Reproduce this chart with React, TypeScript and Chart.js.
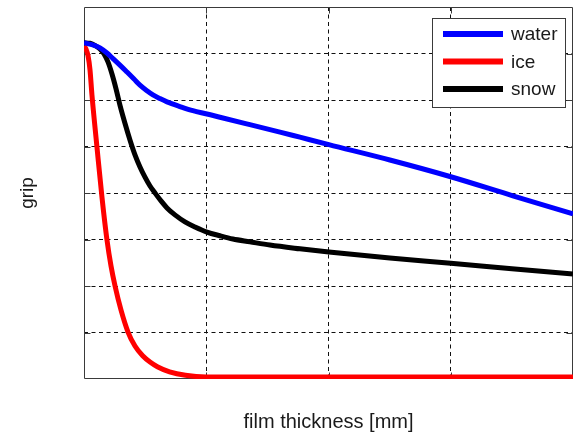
import React, { useEffect, useRef } from "react";
import { Chart, registerables } from "chart.js";

Chart.register(...registerables);

// x: film thickness (4 grid divisions), y: grip (8 grid divisions)
const waterX = [0, 0.065, 0.131, 0.188, 0.237, 0.294, 0.352, 0.409, 0.458, 0.515, 0.564, 0.621, 0.679, 0.785, 0.891, 1.006, 1.112, 1.357, 1.603, 1.766, 2.003, 2.502, 3.0, 3.508, 4.0];
const waterY = [7.23, 7.19, 7.12, 7.01, 6.89, 6.75, 6.6, 6.45, 6.32, 6.2, 6.11, 6.03, 5.96, 5.86, 5.77, 5.7, 5.63, 5.47, 5.31, 5.2, 5.04, 4.71, 4.35, 3.94, 3.55];

const iceX = [0, 0.016, 0.033, 0.049, 0.065, 0.106, 0.147, 0.188, 0.221, 0.254, 0.303, 0.36, 0.417, 0.48, 0.54, 0.6, 0.7, 0.83, 1.0, 2.0, 3.0, 4.0];
const iceY = [7.16, 7.1, 6.95, 6.65, 6.11, 4.99, 3.91, 2.99, 2.43, 2.0, 1.48, 1.01, 0.71, 0.5, 0.365, 0.265, 0.155, 0.08, 0.045, 0.045, 0.045, 0.045];

const snowX = [0, 0.049, 0.098, 0.131, 0.164, 0.196, 0.229, 0.262, 0.294, 0.335, 0.376, 0.417, 0.458, 0.499, 0.54, 0.581, 0.63, 0.679, 0.744, 0.826, 0.908, 1.006, 1.112, 1.218, 1.357, 1.521, 1.766, 2.003, 2.502, 3.0, 3.5, 4.0];
const snowY = [7.23, 7.22, 7.16, 7.1, 6.99, 6.82, 6.56, 6.24, 5.89, 5.5, 5.14, 4.82, 4.56, 4.34, 4.15, 4.0, 3.83, 3.68, 3.53, 3.38, 3.27, 3.16, 3.08, 3.01, 2.95, 2.88, 2.8, 2.73, 2.6, 2.49, 2.37, 2.26];

const seriesNames = ["water", "ice", "snow"];
const seriesColors = ["#0000ff", "#ff0000", "#000000"];
const xTitle = "film thickness [mm]";
const yTitle = "grip";
const xMin = 0, xMax = 4, yMin = 0, yMax = 8;

const toPoints = (xs: number[], ys: number[]) => xs.map((x, i) => ({ x, y: ys[i] }));

const BOX = "#3a3a3a";

const framePlugin = {
  id: "frame",
  beforeDatasetsDraw(chart: any) {
    const { ctx, chartArea: a, scales } = chart;
    ctx.save();
    ctx.strokeStyle = BOX;
    ctx.lineWidth = 1;
    const l = Math.round(a.left) + 0.5, r = Math.round(a.right) - 0.5;
    const t = Math.round(a.top) + 0.5, b = Math.round(a.bottom) - 0.5;
    ctx.beginPath();
    ctx.rect(l, t, r - l, b - t);
    ctx.stroke();
    const tl = 6;
    ctx.beginPath();
    scales.x.ticks.forEach((tk: any) => {
      if (tk.value <= xMin || tk.value >= xMax) return;
      const px = Math.round(scales.x.getPixelForValue(tk.value)) + 0.5;
      ctx.moveTo(px, t); ctx.lineTo(px, t + tl);
      ctx.moveTo(px, b); ctx.lineTo(px, b - tl);
    });
    scales.y.ticks.forEach((tk: any) => {
      if (tk.value <= yMin || tk.value >= yMax) return;
      const py = Math.round(scales.y.getPixelForValue(tk.value)) + 0.5;
      ctx.moveTo(l, py); ctx.lineTo(l + tl, py);
      ctx.moveTo(r, py); ctx.lineTo(r - tl, py);
    });
    ctx.stroke();

    // axis titles
    ctx.fillStyle = "#1a1a1a";
    ctx.font = '20px "Liberation Sans", Arial, sans-serif';
    ctx.textAlign = "center";
    ctx.textBaseline = "alphabetic";
    ctx.fillText(xTitle, (a.left + a.right) / 2, a.bottom + 49);
    ctx.save();
    ctx.translate(a.left - 51, (a.top + a.bottom) / 2);
    ctx.rotate(-Math.PI / 2);
    ctx.font = '19px "Liberation Sans", Arial, sans-serif';
    ctx.fillText(yTitle, 0, 0);
    ctx.restore();
    ctx.restore();
  },
  afterDatasetsDraw(chart: any) {
    const { ctx, chartArea: a } = chart;
    const w = 133, h = 89;
    const left = Math.round(a.right) - 8 - w;
    const top = Math.round(a.top) + 11;
    ctx.save();
    ctx.fillStyle = "#ffffff";
    ctx.fillRect(left, top, w, h);
    ctx.strokeStyle = BOX;
    ctx.lineWidth = 1;
    ctx.strokeRect(left + 0.5, top + 0.5, w, h);
    ctx.font = '19px "Liberation Sans", Arial, sans-serif';
    ctx.textAlign = "left";
    ctx.textBaseline = "middle";
    chart.data.datasets.forEach((ds: any, i: number) => {
      const y = top + 16 + i * 27.5;
      ctx.strokeStyle = ds.borderColor;
      ctx.lineWidth = 6;
      ctx.beginPath();
      ctx.moveTo(left + 11, y);
      ctx.lineTo(left + 71, y);
      ctx.stroke();
      ctx.fillStyle = "#1a1a1a";
      ctx.fillText(ds.label, left + 79, y + 1);
    });
    ctx.restore();
  },
};

export default function App() {
  const ref = useRef<HTMLCanvasElement | null>(null);
  useEffect(() => {
    if (!ref.current) return;
    const series = [toPoints(waterX, waterY), toPoints(iceX, iceY), toPoints(snowX, snowY)];
    const gridColor = (edgeA: number, edgeB: number) => (c: any) =>
      c.tick && (c.tick.value <= edgeA || c.tick.value >= edgeB) ? "rgba(0,0,0,0)" : "#111111";
    const chart = new Chart(ref.current, {
      type: "line",
      data: {
        datasets: series.map((pts, i) => ({
          label: seriesNames[i],
          data: pts,
          borderColor: seriesColors[i],
          backgroundColor: seriesColors[i],
          borderWidth: 5,
          pointRadius: 0,
          cubicInterpolationMode: "monotone" as const,
          fill: false,
        })),
      },
      options: {
        animation: false,
        responsive: false,
        layout: { padding: { left: 84, top: 7, right: 8, bottom: 53 } },
        plugins: { legend: { display: false }, tooltip: { enabled: false } },
        scales: {
          x: {
            type: "linear",
            min: xMin,
            max: xMax,
            ticks: { display: false, stepSize: 1 },
            grid: { color: gridColor(xMin, xMax), drawTicks: false, lineWidth: 1 },
            border: { display: false, dash: [4, 3.5] },
          },
          y: {
            type: "linear",
            min: yMin,
            max: yMax,
            ticks: { display: false, stepSize: 1 },
            grid: { color: gridColor(yMin, yMax), drawTicks: false, lineWidth: 1 },
            border: { display: false, dash: [4, 3.5] },
          },
        },
      },
      plugins: [framePlugin],
    });
    return () => chart.destroy();
  }, []);
  return (
    <div style={{ position: "absolute", left: 0, top: 0, width: 581, height: 432, background: "#fff" }}>
      <canvas ref={ref} width={581} height={432} />
    </div>
  );
}
